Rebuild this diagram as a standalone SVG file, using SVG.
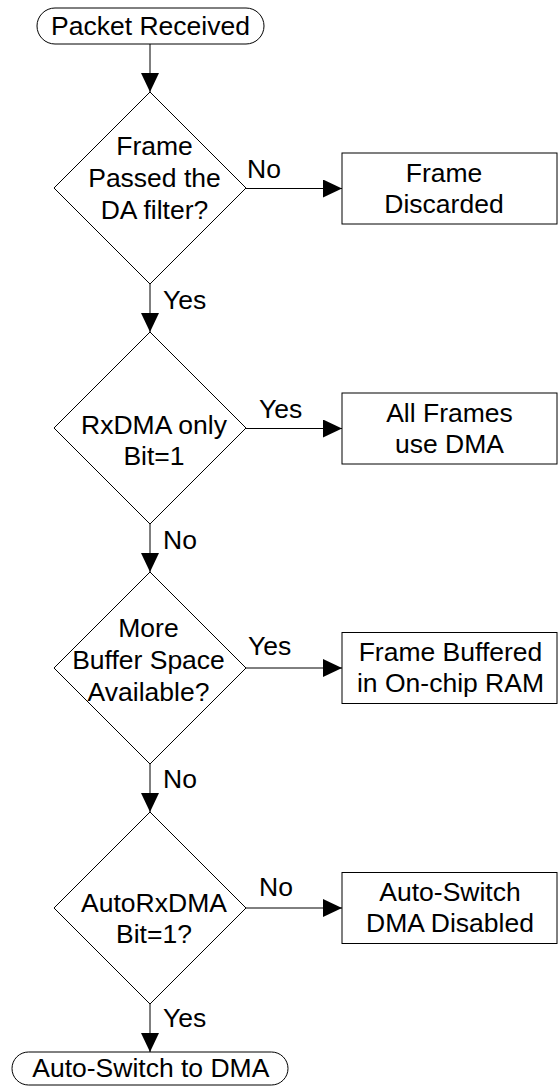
<svg xmlns="http://www.w3.org/2000/svg" width="558" height="1086" viewBox="0 0 558 1086">
<style>
text{font-family:"Liberation Sans",Arial,sans-serif;font-size:26.5px;fill:#000}
.c{text-anchor:middle}
.shape{fill:#fff;stroke:#000;stroke-width:1}
.conn{stroke:#000;stroke-width:1;fill:none}
</style>
<defs>
<marker id="ah" markerUnits="userSpaceOnUse" markerWidth="19" markerHeight="18" refX="19" refY="9" orient="auto">
<path d="M0,0 L19,9 L0,18 z" fill="#000"/>
</marker>
</defs>
<rect width="558" height="1086" fill="#fff"/>
<g id="connectors">
<line class="conn" x1="150" y1="44" x2="150" y2="92" marker-end="url(#ah)"/>
<line class="conn" x1="150" y1="284" x2="150" y2="332" marker-end="url(#ah)"/>
<line class="conn" x1="150" y1="524" x2="150" y2="572" marker-end="url(#ah)"/>
<line class="conn" x1="150" y1="764" x2="150" y2="812" marker-end="url(#ah)"/>
<line class="conn" x1="150" y1="1004" x2="150" y2="1052" marker-end="url(#ah)"/>
<line class="conn" x1="246" y1="188.5" x2="342" y2="188.5" marker-end="url(#ah)"/>
<line class="conn" x1="246" y1="428.5" x2="342" y2="428.5" marker-end="url(#ah)"/>
<line class="conn" x1="246" y1="668" x2="342" y2="668" marker-end="url(#ah)"/>
<line class="conn" x1="246" y1="908" x2="342" y2="908" marker-end="url(#ah)"/>
<text x="247" y="178">No</text>
<text x="163" y="309">Yes</text>
<text x="259" y="418">Yes</text>
<text x="163" y="549">No</text>
<text x="248" y="655">Yes</text>
<text x="163" y="788">No</text>
<text x="259" y="896">No</text>
<text x="163" y="1027">Yes</text>
</g>
<g id="start">
<rect class="shape" x="37" y="8" width="227" height="36" rx="18" ry="18"/>
<text class="c" x="150.5" y="34.5">Packet Received</text>
</g>
<g id="d1">
<polygon class="shape" points="150,92 246,188 150,284 54,188"/>
<text class="c" x="154.5" y="155">Frame</text>
<text class="c" x="154.5" y="187">Passed the</text>
<text class="c" x="154.5" y="218.5">DA filter?</text>
</g>
<g id="r1">
<rect class="shape" x="342" y="153" width="215" height="71"/>
<text class="c" x="444" y="181.7">Frame</text>
<text class="c" x="444" y="213.3">Discarded</text>
</g>
<g id="d2">
<polygon class="shape" points="150,332 246,428 150,524 54,428"/>
<text class="c" x="154" y="434">RxDMA only</text>
<text class="c" x="154" y="465">Bit=1</text>
</g>
<g id="r2">
<rect class="shape" x="342" y="393" width="215" height="71"/>
<text class="c" x="449.5" y="421.7">All Frames</text>
<text class="c" x="449.5" y="452.7">use DMA</text>
</g>
<g id="d3">
<polygon class="shape" points="150,572 246,668 150,764 54,668"/>
<text class="c" x="148.5" y="637">More</text>
<text class="c" x="148.5" y="669">Buffer Space</text>
<text class="c" x="148.5" y="701">Available?</text>
</g>
<g id="r3">
<rect class="shape" x="342" y="632.5" width="215" height="71"/>
<text class="c" x="450.5" y="660.7">Frame Buffered</text>
<text class="c" x="450.5" y="691.7">in On-chip RAM</text>
</g>
<g id="d4">
<polygon class="shape" points="150,812 246,908 150,1004 54,908"/>
<text class="c" x="154" y="912">AutoRxDMA</text>
<text class="c" x="154" y="943">Bit=1?</text>
</g>
<g id="r4">
<rect class="shape" x="342" y="872.5" width="215" height="71"/>
<text class="c" x="450" y="900.5">Auto-Switch</text>
<text class="c" x="450" y="932">DMA Disabled</text>
</g>
<g id="end">
<rect class="shape" x="12" y="1052" width="276" height="33" rx="16.5" ry="16.5"/>
<text class="c" x="150.8" y="1077">Auto-Switch to DMA</text>
</g>
</svg>
